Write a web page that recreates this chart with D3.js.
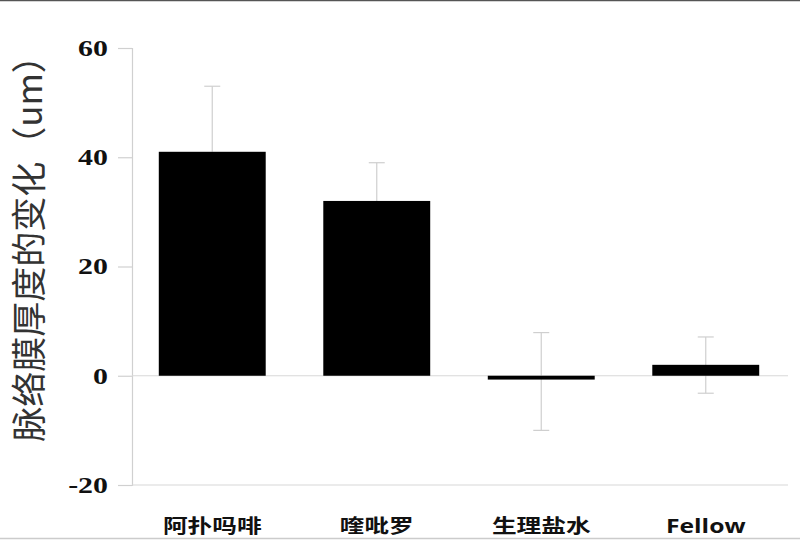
<!DOCTYPE html>
<html><head><meta charset="utf-8">
<script src="https://cdn.jsdelivr.net/npm/d3@7"></script>
<style>body{margin:0;background:#fff}svg{display:block}</style>
</head><body>
<svg id="c" width="800" height="540"></svg>
<script>
const categories = ["阿扑吗啡", "喹吡罗", "生理盐水", "Fellow"];
const values = [41.0, 32.0, -0.7, 2.0];
const errUpper = [53.0, 39.0, 7.9, 7.1];
const errLower = [41.0, 32.0, -10.0, -3.2];
const yTicks = [-20, 0, 20, 40, 60];
const yTitle = "脉络膜厚度的变化（um）";

const svg = d3.select("#c");
const x = d3.scaleBand().domain(categories).range([130, 788]).paddingInner(0.35).paddingOuter(0.175);
const y = d3.scaleLinear().domain([-20, 60]).range([485, 48]);
const sx = 1.3; // horizontal stretch of the text in the original

// frame lines
svg.append("line").attr("x1",0).attr("x2",800).attr("y1",0.5).attr("y2",0.5).attr("stroke","#555").attr("stroke-width",1.5);
svg.append("line").attr("x1",0).attr("x2",800).attr("y1",538.5).attr("y2",538.5).attr("stroke","#ccc").attr("stroke-width",1.5);

// y axis
const yAxis = d3.axisLeft(y).tickValues(yTicks).tickSize(14).tickPadding(10).tickFormat(d => String(d));
const gy = svg.append("g").attr("transform","translate(132,0)").call(yAxis);
gy.select(".domain").attr("stroke","#d0d0d0").attr("stroke-width",1.2);
gy.selectAll(".tick line").attr("stroke","#d0d0d0").attr("stroke-width",1.2);
gy.selectAll(".tick text").attr("font-family","'Liberation Serif', serif").attr("font-weight","bold")
  .attr("font-size",23).attr("fill","#111")
  .attr("x", -24/sx).attr("transform", `scale(${sx},1)`);

// zero line and bottom line
svg.append("line").attr("x1",132).attr("x2",788).attr("y1",y(0)).attr("y2",y(0)).attr("stroke","#d8d8d8").attr("stroke-width",1.2);
svg.append("line").attr("x1",132).attr("x2",788).attr("y1",y(-20)).attr("y2",y(-20)).attr("stroke","#d8d8d8").attr("stroke-width",1.2);

// error bars (behind bars)
const eb = svg.append("g").attr("stroke","#cfcfcf").attr("stroke-width",1.2);
categories.forEach((c,i)=>{
  const cx = x(c) + x.bandwidth()/2;
  eb.append("line").attr("x1",cx).attr("x2",cx).attr("y1",y(errUpper[i])).attr("y2",y(errLower[i]));
  eb.append("line").attr("x1",cx-8).attr("x2",cx+8).attr("y1",y(errUpper[i])).attr("y2",y(errUpper[i]));
  if (errLower[i] < Math.min(values[i],0)) eb.append("line").attr("x1",cx-8).attr("x2",cx+8).attr("y1",y(errLower[i])).attr("y2",y(errLower[i]));
});

// bars
svg.append("g").selectAll("rect").data(categories).join("rect")
  .attr("x", d=>x(d)).attr("width", x.bandwidth())
  .attr("y", (d,i)=>y(Math.max(0,values[i])))
  .attr("height", (d,i)=>Math.abs(y(values[i])-y(0)))
  .attr("fill","#000");

// x labels
svg.append("g").selectAll("text").data(categories).join("text")
  .attr("transform", d=>`translate(${x(d)+x.bandwidth()/2},533) scale(${sx},1)`)
  .attr("text-anchor","middle")
  .attr("font-family", d=> d==="Fellow" ? "'Open Sans', 'DejaVu Sans', sans-serif" : "'Noto Sans CJK SC', sans-serif")
  .attr("font-weight","bold").attr("font-size", 19).attr("fill","#111")
  .text(d=>d);

// y title
svg.append("text").attr("transform","translate(42,240) rotate(-90)")
  .attr("text-anchor","middle").attr("font-family","'Noto Sans CJK SC', sans-serif")
  .attr("font-size",35).attr("fill","#333").text(yTitle);
</script>
</body></html>
